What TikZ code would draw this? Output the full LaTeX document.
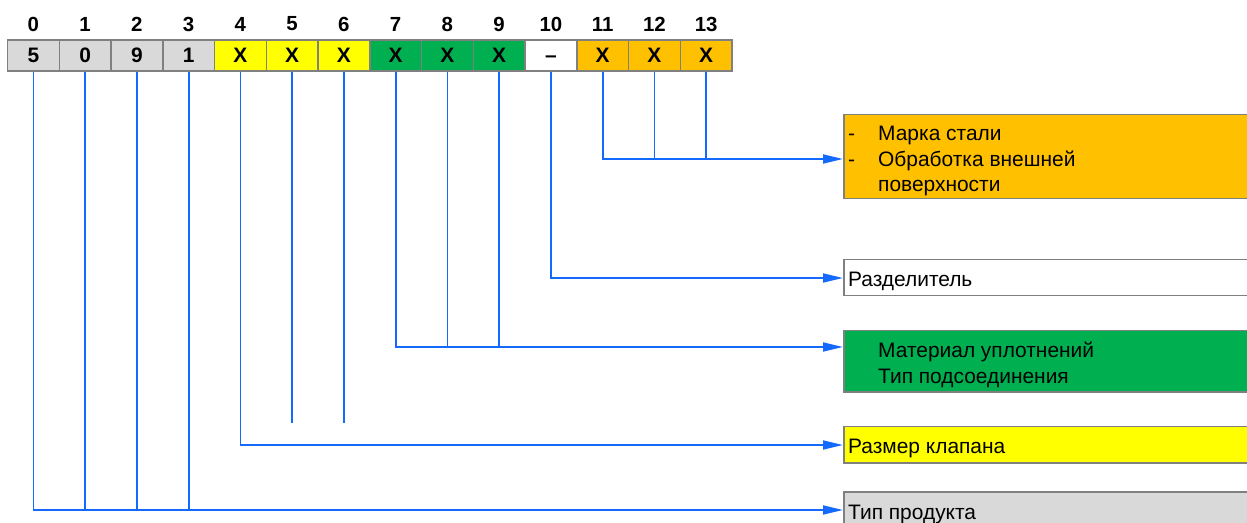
\documentclass[tikz,border=0pt]{standalone}
\usepackage{fontspec}
\setmainfont{Liberation Sans}
\usetikzlibrary{arrows.meta}
\definecolor{cgray}{HTML}{D9D9D9}
\definecolor{cyel}{HTML}{FFFF00}
\definecolor{cgreen}{HTML}{00B050}
\definecolor{corange}{HTML}{FFC000}
\definecolor{cborder}{HTML}{808080}
\definecolor{cblue}{RGB}{20,105,255}
\tikzset{
  cell/.style={draw=cborder, line width=1.5bp, minimum width=51.75bp, minimum height=31bp, inner sep=0pt,
    font=\fontsize{21}{24}\selectfont\bfseries},
  idx/.style={inner sep=0pt, font=\fontsize{20.5}{24}\selectfont\bfseries},
  box/.style={draw=cborder, line width=1.5bp, anchor=north west, minimum width=420bp, inner sep=0pt},
  txt/.style={anchor=west, inner sep=0pt, xshift=5bp, yshift=-3.5bp, align=left,
    font=\fontsize{21}{25.5}\selectfont},
  conn/.style={draw=cblue, line width=1.8bp},
  arr/.style={conn, -{Triangle[length=20bp,width=9bp]}},
}
\begin{document}
\begin{tikzpicture}[x=1bp,y=-1bp]
\useasboundingbox (0,0) rectangle (1247,523);
\clip (0,0) rectangle (1247,523);
% cells
\foreach \i/\t/\c in {0/5/cgray,1/0/cgray,2/9/cgray,3/1/cgray,4/X/cyel,5/X/cyel,6/X/cyel,7/X/cgreen,8/X/cgreen,9/X/cgreen,10/\textendash/white,11/X/corange,12/X/corange,13/X/corange}{
  \node[cell, fill=\c] (c\i) at ({33.4+51.75*\i},55.5) {\vphantom{X}\t};
  \node[idx] (n\i) at ({33.4+51.75*\i},24) {\i};
}
% boxes
\node[box, fill=corange, minimum height=84bp] (bo) at (843,114) {};
\node[box, fill=white, minimum height=36bp] (bw) at (843,259) {};
\node[box, fill=cgreen, minimum height=61bp] (bg) at (843,330) {};
\node[box, fill=cyel, minimum height=36bp] (by) at (843,426) {};
\node[box, fill=cgray, minimum height=38bp] (bp) at (843,491) {};
% box texts
\node[txt, yshift=-1bp] (to) at (bo.west)
  {\makebox[30bp][l]{-}Марка стали\\\makebox[30bp][l]{-}Обработка внешней\\\makebox[30bp][l]{}поверхности};
\node[txt] (tw) at (bw.west) {Разделитель};
\node[txt] (tg) at (bg.west)
  {\makebox[30bp][l]{}Материал уплотнений\\\makebox[30bp][l]{}Тип подсоединения};
\node[txt] (ty) at (by.west) {Размер клапана};
\node[txt] (tp) at (bp.west) {Тип продукта};
% connector coordinates
\coordinate (yo) at (0,159);
\coordinate (yw) at (0,278);
\coordinate (yg) at (0,347);
\coordinate (ys) at (0,423);
\coordinate (yy) at (0,445);
\coordinate (yp) at (0,510);
% connectors
\draw[conn] (c11.south) |- (c13.south |- yo);
\draw[conn] (c12.south) -- (c12.south |- yo);
\draw[arr] (c13.south) |- (bo.west |- yo);
\draw[arr] (c10.south) |- (bw.west |- yw);
\draw[conn] (c7.south) |- (c9.south |- yg);
\draw[conn] (c8.south) -- (c8.south |- yg);
\draw[arr] (c9.south) |- (bg.west |- yg);
\draw[conn] (c5.south) -- (c5.south |- ys);
\draw[conn] (c6.south) -- (c6.south |- ys);
\draw[arr] (c4.south) |- (by.west |- yy);
\draw[conn] (c0.south) |- (c3.south |- yp);
\draw[conn] (c1.south) -- (c1.south |- yp);
\draw[conn] (c2.south) -- (c2.south |- yp);
\draw[arr] (c3.south) |- (bp.west |- yp);
\end{tikzpicture}
\end{document}
